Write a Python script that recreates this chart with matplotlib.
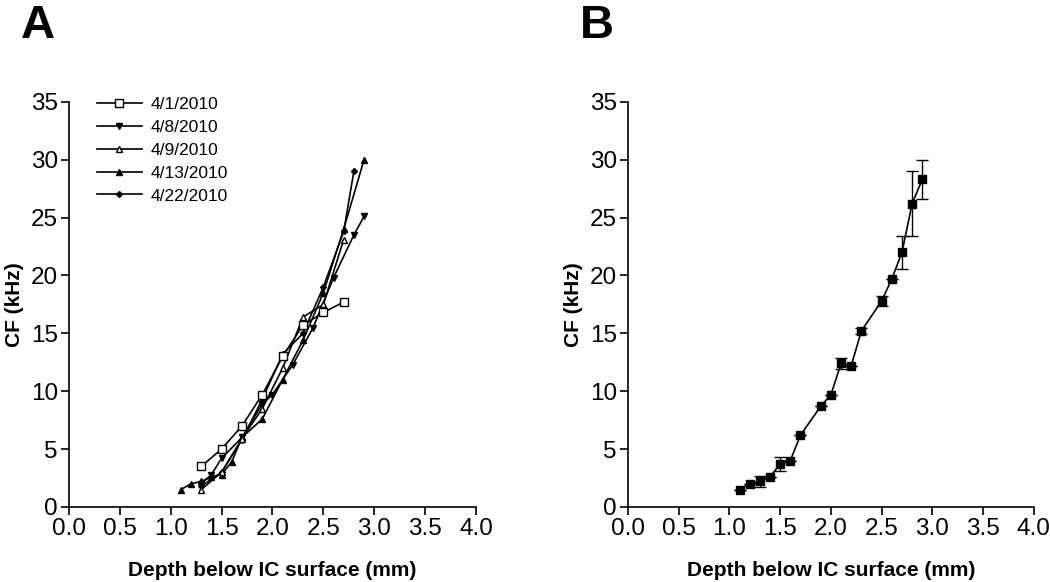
import numpy as np
import matplotlib
matplotlib.use("Agg")
import matplotlib.pyplot as plt

plt.rcParams['font.family'] = ['Liberation Sans', 'DejaVu Sans']

# パネルA: 個体ごとの深さ-CF
dates = ["4/1/2010", "4/8/2010", "4/9/2010", "4/13/2010", "4/22/2010"]
depth_0401 = [1.3, 1.5, 1.7, 1.9, 2.1, 2.3, 2.5, 2.7]
cf_0401 = [3.5, 5.0, 7.0, 9.7, 13.0, 15.7, 16.8, 17.7]
depth_0408 = [1.3, 1.4, 1.5, 1.7, 1.9, 2.0, 2.2, 2.4, 2.6, 2.8, 2.9]
cf_0408 = [2.0, 2.8, 4.2, 6.0, 8.9, 9.7, 12.3, 15.5, 19.8, 23.5, 25.1]
depth_0409 = [1.3, 1.5, 1.7, 1.9, 2.1, 2.3, 2.5, 2.7]
cf_0409 = [1.5, 3.0, 5.9, 8.5, 12.0, 16.4, 17.5, 23.1]
depth_0413 = [1.1, 1.2, 1.3, 1.4, 1.5, 1.6, 1.7, 1.9, 2.1, 2.3, 2.5, 2.7, 2.9]
cf_0413 = [1.5, 2.0, 2.2, 2.6, 2.8, 3.9, 6.0, 7.6, 11.0, 14.4, 18.5, 24.0, 30.0]
depth_0422 = [1.3, 1.5, 1.7, 1.9, 2.1, 2.3, 2.5, 2.7, 2.8]
cf_0422 = [1.8, 3.0, 5.8, 9.3, 13.2, 15.0, 19.0, 23.8, 29.0]

# パネルB: 平均と誤差
depth_mean = [1.1, 1.2, 1.3, 1.4, 1.5, 1.6, 1.7, 1.9, 2.0, 2.1, 2.2, 2.3, 2.5, 2.6, 2.7, 2.8, 2.9]
cf_mean = [1.5, 2.0, 2.2, 2.6, 3.7, 4.0, 6.2, 8.7, 9.7, 12.4, 12.2, 15.2, 17.8, 19.7, 22.0, 26.2, 28.3]
cf_err = [0.0, 0.0, 0.5, 0.0, 0.6, 0.0, 0.0, 0.0, 0.0, 0.5, 0.0, 0.3, 0.4, 0.0, 1.4, 2.8, 1.7]

xticks = [0.0, 0.5, 1.0, 1.5, 2.0, 2.5, 3.0, 3.5, 4.0]
yticks = [0, 5, 10, 15, 20, 25, 30, 35]


def style_axes(ax):
    ax.set_xlim(0, 4.0)
    ax.set_ylim(0, 35)
    ax.set_xticks(xticks)
    ax.set_xticklabels(["%.1f" % v for v in xticks])
    ax.set_yticks(yticks)
    for s in ["top", "right"]:
        ax.spines[s].set_visible(False)
    for s in ["left", "bottom"]:
        ax.spines[s].set_linewidth(1.2)
    ax.tick_params(direction="out", length=6, width=1.2, labelsize=17.5, pad=2)
    ax.set_xlabel("Depth below IC surface (mm)", fontsize=15, fontweight="bold", labelpad=15)
    ax.set_ylabel("CF (kHz)", fontsize=15, fontweight="bold", labelpad=5)


fig = plt.figure(figsize=(10.5, 5.82), dpi=100)
axA = fig.add_axes([0.0657, 0.129, 0.3876, 0.696])
axB = fig.add_axes([0.598, 0.129, 0.3867, 0.696])

lw = 1.2
axA.plot(depth_0401, cf_0401, color="black", lw=lw, marker="s", ms=5.5,
         mfc="white", mec="black", mew=1.0, label=dates[0], zorder=5)
axA.plot(depth_0408, cf_0408, color="black", lw=lw, marker="v", ms=4.5,
         label=dates[1])
axA.plot(depth_0409, cf_0409, color="black", lw=lw, marker="^", ms=5,
         mfc="white", mec="black", mew=1.0, label=dates[2], zorder=4)
axA.plot(depth_0413, cf_0413, color="black", lw=lw, marker="^", ms=4.5,
         label=dates[3])
axA.plot(depth_0422, cf_0422, color="black", lw=lw, marker="D", ms=3,
         label=dates[4])
style_axes(axA)
axA.legend(loc="upper left", bbox_to_anchor=(0.03, 1.05), frameon=False,
           fontsize=12.5, handlelength=2.6, handletextpad=0.5, labelspacing=0.44)

axB.errorbar(depth_mean, cf_mean, yerr=cf_err, color="black", lw=lw,
             marker="s", ms=5.5, capsize=4, elinewidth=1.0, capthick=1.0)
style_axes(axB)

fig.text(0.02, 0.935, "A", fontsize=34, fontweight="bold")
fig.text(0.552, 0.935, "B", fontsize=34, fontweight="bold")

fig.savefig("out.png", dpi=100)
